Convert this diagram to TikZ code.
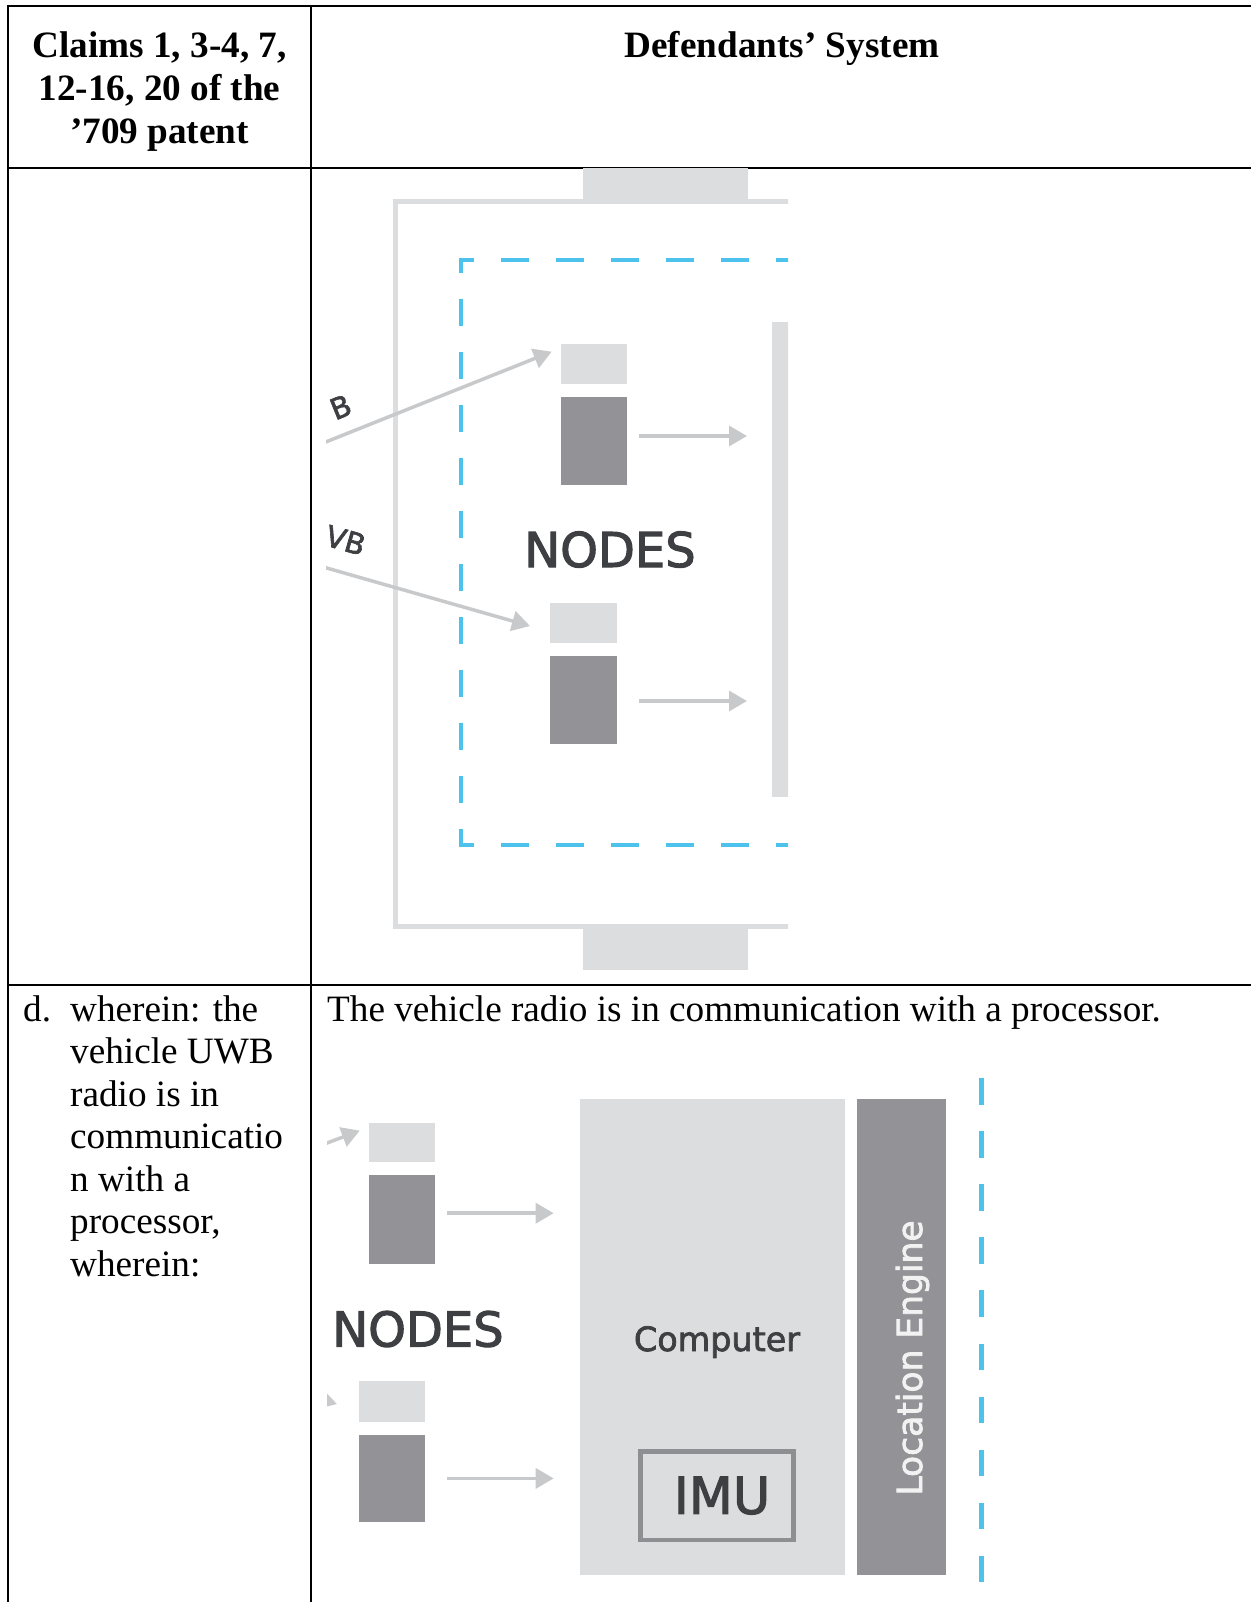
\documentclass[tikz,border=0pt]{standalone}
\usepackage{fontspec}
\setmainfont{Liberation Serif}
\newfontfamily\diag[FakeBold=2.2]{DejaVu Sans}
\usetikzlibrary{arrows.meta}
\definecolor{lgray}{HTML}{DCDDDF}
\definecolor{dgray}{HTML}{939297}
\definecolor{agray}{HTML}{C8C9CB}
\definecolor{tgray}{HTML}{3E3F42}
\definecolor{imugray}{HTML}{8F8F93}
\definecolor{cyanb}{HTML}{4CC2EC}
\begin{document}
\begin{tikzpicture}[x=1pt,y=-1pt,
  tbl/.style={line width=2.2pt, draw=black},
  body/.style={font=\fontsize{37.2}{42.5}\selectfont, inner sep=0pt, anchor=base west},
  head/.style={font=\fontsize{37.2}{43}\selectfont\bfseries, inner sep=0pt, anchor=base},
  blk/.style={inner sep=0pt, outer sep=0pt, anchor=north west, draw=none},
  lightblk/.style={blk, fill=lgray},
  darkblk/.style={blk, fill=dgray},
  flow/.style={draw=agray, line width=3.5pt, -{Triangle[length=18pt,width=20pt]}},
  framepath/.style={draw=lgray, line width=5pt},
  bdash/.style={draw=cyanb, line width=4.7pt},
  lbl/.style={font=\diag\fontsize{48}{48}\selectfont, text=tgray, inner sep=0pt, anchor=base},
  lblsmall/.style={font=\diag\fontsize{29}{29}\selectfont, text=tgray, inner sep=0pt, anchor=base east},
]
\useasboundingbox (0,0) rectangle (1250,1602);

% ---------- table ----------
\draw[tbl] (6.9,6) -- (1252,6);
\draw[tbl] (8,6) -- (8,1603);
\draw[tbl] (311,6) -- (311,1603);
\draw[tbl] (8,168) -- (1252,168);
\draw[tbl] (8,985) -- (1252,985);

\node[head] (h1) at (159.5,58) {Claims 1, 3-4, 7,};
\node[head] (h2) at (159.5,101) {12-16, 20 of the};
\node[head] (h3) at (159.5,144) {’709 patent};
\node[head] (h4) at (782,58) {Defendants’ System};

\node[body] (c0) at (23,1021) {d.};
\node[body] (c1) at (70,1021) {wherein: the};
\node[body] (c2) at (70,1063.5) {vehicle UWB};
\node[body] (c3) at (70,1106) {radio is in};
\node[body] (c4) at (70,1148.5) {communicatio};
\node[body] (c5) at (70,1191) {n with a};
\node[body] (c6) at (70,1233.5) {processor,};
\node[body] (c7) at (70,1276) {wherein:};
\node[body] (s1) at (327,1021) {The vehicle radio is in communication with a processor.};

% ---------- top diagram ----------
\begin{scope}
\clip (326,168) rectangle (788,975);
\fill[lgray] (583,168) rectangle (748,199);
\draw[framepath] (800,202) -- (395,202) -- (395,926) -- (800,926);
\fill[lgray] (583,926) rectangle (748,970);
\fill[lgray] (772,322) rectangle (795,797);
% blue dashed boundary
\draw[bdash, dash pattern=on 28pt off 27pt, dash phase=12.65pt] (458.65,260) -- (800,260);
\draw[bdash, dash pattern=on 28pt off 27pt, dash phase=12.65pt] (458.65,845) -- (800,845);
\draw[bdash, dash pattern=on 27.3pt off 25.7pt, dash phase=14.3pt] (461,260) -- (461,845);
% node 1
\node[lightblk, minimum width=66pt, minimum height=40pt] (n1l) at (561,344) {};
\node[darkblk, minimum width=66pt, minimum height=88pt] (n1d) at (561,397) {};
% node 2
\node[lightblk, minimum width=67pt, minimum height=40pt] (n2l) at (550,603) {};
\node[darkblk, minimum width=67pt, minimum height=88pt] (n2d) at (550,656) {};
\coordinate (o1s) at (639,436);
\coordinate (o1t) at (747,436);
\coordinate (o2s) at (639,701);
\coordinate (o2t) at (747,701);
\draw[flow] (o1s) -- (o1t);
\draw[flow] (o2s) -- (o2t);
\coordinate (i1s) at (300,452.3);
\coordinate (i1t) at (551.7,351.7);
\coordinate (i2s) at (300,560.4);
\coordinate (i2t) at (530,626);
\draw[flow] (i1s) -- (i1t);
\draw[flow] (i2s) -- (i2t);
\node[lblsmall, rotate=22] (u1) at (354,413) {B};
\node[lblsmall, rotate=-16] (u2) at (362,556) {VB};
\node[lbl] (nodes1) at (610,567) {NODES};
\end{scope}

% ---------- bottom diagram ----------
\begin{scope}
\clip (327,1040) rectangle (1000,1602);
\node[lightblk, minimum width=66.5pt, minimum height=39.6pt] (al) at (368.5,1122.7) {};
\node[darkblk, minimum width=66.5pt, minimum height=89.5pt] (ad) at (368.5,1174.7) {};
\node[lightblk, minimum width=66.5pt, minimum height=40.6pt] (bl) at (358.5,1381) {};
\node[darkblk, minimum width=66.5pt, minimum height=87.4pt] (bd) at (358.5,1434.7) {};
\coordinate (ias) at (290,1157);
\coordinate (iat) at (359.8,1130.6);
\coordinate (ibs) at (237,1375.5);
\coordinate (ibt) at (337,1404);
\draw[flow] (ias) -- (iat);
\draw[flow] (ibs) -- (ibt);
\coordinate (oas) at (447.4,1213.2);
\coordinate (oat) at (553.7,1213.2);
\coordinate (obs) at (447.4,1478.4);
\coordinate (obt) at (553.7,1478.4);
\draw[flow] (oas) -- (oat);
\draw[flow] (obs) -- (obt);
\node[lbl] (nodes2) at (418,1346.5) {NODES};
% computer
\fill[lgray] (580,1099) rectangle (845,1575);
\node[font=\diag\fontsize{33.4}{33.4}\selectfont, text=tgray, inner sep=0pt, anchor=base] (comp) at (717,1351) {Computer};
\draw[draw=imugray, line width=4.5pt, fill=lgray] (640.5,1451.4) rectangle (793.5,1539.8);
\node[font=\diag\fontsize{51}{51}\selectfont, text=tgray, inner sep=0pt, anchor=base] (imu) at (722,1513.8) {IMU};
% location engine
\fill[dgray] (857.2,1098.6) rectangle (946.1,1574.8);
\node[font=\diag\fontsize{34.5}{34.5}\selectfont, text=white!95!black, inner sep=0pt, anchor=base, rotate=90] (loc) at (922,1358) {Location Engine};
\draw[bdash, line width=5pt, dash pattern=on 26.5pt off 26.6pt] (981.5,1078) -- (981.5,1602);
\end{scope}
\end{tikzpicture}
\end{document}
